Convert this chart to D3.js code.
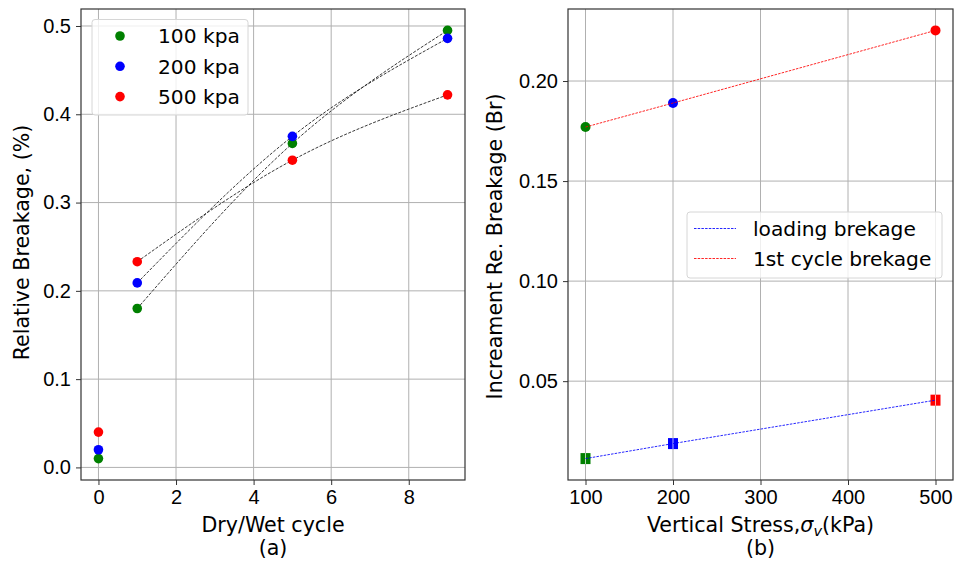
<!DOCTYPE html>
<html>
<head>
<meta charset="utf-8">
<script src="https://cdn.jsdelivr.net/npm/d3@7"></script>
<style>
  html, body { margin: 0; padding: 0; background: #fff; }
  svg { display: block; font-family: "DejaVu Sans", sans-serif; }
  .tick text { font-size: 20px; fill: #000; }
</style>
</head>
<body>
<svg id="chart" width="956" height="563"></svg>
<script>
// ---------- data: panel (a) ----------
const cycles = [0, 1, 5, 9];
const seriesNames = ["100 kpa", "200 kpa", "500 kpa"];
const rb100 = [0.01, 0.18, 0.367, 0.495];
const rb200 = [0.02, 0.209, 0.375, 0.486];
const rb500 = [0.04, 0.233, 0.348, 0.422];
const xTicksA = [0, 2, 4, 6, 8];
const yTicksA = [0.0, 0.1, 0.2, 0.3, 0.4, 0.5];

// ---------- data: panel (b) ----------
const stress = [100, 200, 500];
const loadingBreakage = [0.0113, 0.0188, 0.0405];
const firstCycleBreakage = [0.177, 0.189, 0.2253];
const lineNamesB = ["loading brekage", "1st cycle brekage"];
const xTicksB = [100, 200, 300, 400, 500];
const yTicksB = [0.05, 0.10, 0.15, 0.20];

const colors = ["#008000", "#0000ff", "#ff0000"];

const svg = d3.select("#chart");
const gridColor = "#b0b0b0";
const spineColor = "#333";
const labelSize = 20.6;

function pad(ext, frac) { const r = ext[1] - ext[0]; return [ext[0] - r * frac, ext[1] + r * frac]; }

// ================= Panel (a) =================
const A = { left: 81, right: 465, top: 9, bottom: 480 };
const xA = d3.scaleLinear().domain(pad(d3.extent(cycles), 0.05)).range([A.left, A.right]);
const allA = rb100.concat(rb200, rb500);
const yA = d3.scaleLinear().domain(pad(d3.extent(allA), 0.05)).range([A.bottom, A.top]);

const gA = svg.append("g");
// grid
gA.append("g").selectAll("line").data(xTicksA).join("line")
  .attr("x1", d => xA(d)).attr("x2", d => xA(d)).attr("y1", A.top).attr("y2", A.bottom)
  .attr("stroke", gridColor).attr("stroke-width", 1);
gA.append("g").selectAll("line").data(yTicksA).join("line")
  .attr("y1", d => yA(d)).attr("y2", d => yA(d)).attr("x1", A.left).attr("x2", A.right)
  .attr("stroke", gridColor).attr("stroke-width", 1);

// axes
const axA_x = gA.append("g").attr("transform", `translate(0,${A.bottom})`)
  .call(d3.axisBottom(xA).tickValues(xTicksA).tickFormat(d3.format("d")).tickSize(5).tickPadding(5));
const axA_y = gA.append("g").attr("transform", `translate(${A.left},0)`)
  .call(d3.axisLeft(yA).tickValues(yTicksA).tickFormat(d3.format(".1f")).tickSize(5).tickPadding(5));
[axA_x, axA_y].forEach(a => { a.select(".domain").remove(); a.selectAll(".tick line").attr("stroke", spineColor); });

// fitted curves (through the cycle 1..9 points)
const seriesA = [rb100, rb200, rb500];
const lineA = d3.line().x(d => xA(d[0])).y(d => yA(d[1])).curve(d3.curveNatural);
seriesA.forEach(s => {
  const pts = cycles.map((c, i) => [c, s[i]]).slice(1);
  gA.append("path").attr("d", lineA(pts)).attr("fill", "none")
    .attr("stroke", "#222").attr("stroke-width", 0.9).attr("stroke-dasharray", "3,1.5");
});
// points
seriesA.forEach((s, k) => {
  gA.append("g").selectAll("circle").data(cycles.map((c, i) => [c, s[i]])).join("circle")
    .attr("cx", d => xA(d[0])).attr("cy", d => yA(d[1])).attr("r", 4.8).attr("fill", colors[k]);
});

// spines
gA.append("rect").attr("x", A.left).attr("y", A.top).attr("width", A.right - A.left).attr("height", A.bottom - A.top)
  .attr("fill", "none").attr("stroke", spineColor).attr("stroke-width", 1.2);

// legend (a)
const legA = gA.append("g");
legA.append("rect").attr("x", 92).attr("y", 19.5).attr("width", 156).attr("height", 95.5).attr("rx", 3)
  .attr("fill", "#fff").attr("fill-opacity", 0.8).attr("stroke", "#d6d6d6");
seriesNames.forEach((n, i) => {
  const yy = 36 + i * 30.3;
  legA.append("circle").attr("cx", 120).attr("cy", yy).attr("r", 4.8).attr("fill", colors[i]);
  legA.append("text").attr("x", 158).attr("y", yy).attr("dy", "0.36em").attr("font-size", 20.2).text(n);
});

// labels (a)
svg.append("text").attr("transform", `translate(29,${(A.top + A.bottom) / 2 - 2}) rotate(-90)`)
  .attr("text-anchor", "middle").attr("font-size", labelSize).text("Relative Breakage, (%)");
svg.append("text").attr("x", (A.left + A.right) / 2).attr("y", 532).attr("text-anchor", "middle")
  .attr("font-size", labelSize).text("Dry/Wet cycle");
svg.append("text").attr("x", (A.left + A.right) / 2).attr("y", 555).attr("text-anchor", "middle")
  .attr("font-size", labelSize).text("(a)");

// ================= Panel (b) =================
const B = { left: 568, right: 953, top: 9, bottom: 480 };
const xB = d3.scaleLinear().domain(pad(d3.extent(stress), 0.05)).range([B.left, B.right]);
const allB = loadingBreakage.concat(firstCycleBreakage);
const yB = d3.scaleLinear().domain(pad(d3.extent(allB), 0.05)).range([B.bottom, B.top]);

const gB = svg.append("g");
gB.append("g").selectAll("line").data(xTicksB).join("line")
  .attr("x1", d => xB(d)).attr("x2", d => xB(d)).attr("y1", B.top).attr("y2", B.bottom)
  .attr("stroke", gridColor).attr("stroke-width", 1);
gB.append("g").selectAll("line").data(yTicksB).join("line")
  .attr("y1", d => yB(d)).attr("y2", d => yB(d)).attr("x1", B.left).attr("x2", B.right)
  .attr("stroke", gridColor).attr("stroke-width", 1);

const axB_x = gB.append("g").attr("transform", `translate(0,${B.bottom})`)
  .call(d3.axisBottom(xB).tickValues(xTicksB).tickFormat(d3.format("d")).tickSize(5).tickPadding(5));
const axB_y = gB.append("g").attr("transform", `translate(${B.left},0)`)
  .call(d3.axisLeft(yB).tickValues(yTicksB).tickFormat(d3.format(".2f")).tickSize(5).tickPadding(5));
[axB_x, axB_y].forEach(a => { a.select(".domain").remove(); a.selectAll(".tick line").attr("stroke", spineColor); });

const lineB = d3.line().x(d => xB(d[0])).y(d => yB(d[1]));
const loadPts = stress.map((s, i) => [s, loadingBreakage[i]]);
const firstPts = stress.map((s, i) => [s, firstCycleBreakage[i]]);

// markers
gB.append("g").selectAll("rect").data(loadPts).join("rect")
  .attr("x", d => xB(d[0]) - 5).attr("y", d => yB(d[1]) - 5.5).attr("width", 10).attr("height", 11)
  .attr("fill", (d, i) => colors[i]);
gB.append("g").selectAll("line").data(loadPts).join("line")
  .attr("x1", d => xB(d[0])).attr("x2", d => xB(d[0])).attr("y1", d => yB(d[1]) - 5.5).attr("y2", d => yB(d[1]) + 5.5)
  .attr("stroke", "#fff").attr("stroke-opacity", 0.7).attr("stroke-width", 1);
gB.append("g").selectAll("circle").data(firstPts).join("circle")
  .attr("cx", d => xB(d[0])).attr("cy", d => yB(d[1])).attr("r", 5).attr("fill", (d, i) => colors[i]);

// lines
gB.append("path").attr("d", lineB(loadPts)).attr("fill", "none")
  .attr("stroke", "#0000ff").attr("stroke-width", 1).attr("stroke-opacity", 0.85).attr("stroke-dasharray", "2.5,1.2");
gB.append("path").attr("d", lineB(firstPts)).attr("fill", "none")
  .attr("stroke", "#ff0000").attr("stroke-width", 1).attr("stroke-opacity", 0.85).attr("stroke-dasharray", "2.5,1.2");

gB.append("rect").attr("x", B.left).attr("y", B.top).attr("width", B.right - B.left).attr("height", B.bottom - B.top)
  .attr("fill", "none").attr("stroke", spineColor).attr("stroke-width", 1.2);

// legend (b)
const legB = gB.append("g");
legB.append("rect").attr("x", 687).attr("y", 212).attr("width", 255).attr("height", 66).attr("rx", 3)
  .attr("fill", "#fff").attr("fill-opacity", 0.8).attr("stroke", "#d6d6d6");
const legColorsB = ["#0000ff", "#ff0000"];
lineNamesB.forEach((n, i) => {
  const yy = 228.5 + i * 30;
  legB.append("line").attr("x1", 694).attr("x2", 736).attr("y1", yy).attr("y2", yy)
    .attr("stroke", legColorsB[i]).attr("stroke-width", 1).attr("stroke-opacity", 0.85).attr("stroke-dasharray", "2.5,1.2");
  legB.append("text").attr("x", 753).attr("y", yy).attr("dy", "0.36em").attr("font-size", 20.2).text(n);
});

// labels (b)
svg.append("text").attr("transform", `translate(502,${(B.top + B.bottom) / 2 + 2}) rotate(-90)`)
  .attr("text-anchor", "middle").attr("font-size", labelSize).text("Increament Re. Breakage (Br)");
const xlb = svg.append("text").attr("x", (B.left + B.right) / 2).attr("y", 532).attr("text-anchor", "middle")
  .attr("font-size", labelSize);
xlb.append("tspan").text("Vertical Stress,");
xlb.append("tspan").attr("font-style", "italic").text("σ");
xlb.append("tspan").attr("font-style", "italic").attr("font-size", 14.5).attr("dy", 4).text("v");
xlb.append("tspan").attr("dy", -4).text("(kPa)");
svg.append("text").attr("x", (B.left + B.right) / 2).attr("y", 555).attr("text-anchor", "middle")
  .attr("font-size", labelSize).text("(b)");
</script>
</body>
</html>
